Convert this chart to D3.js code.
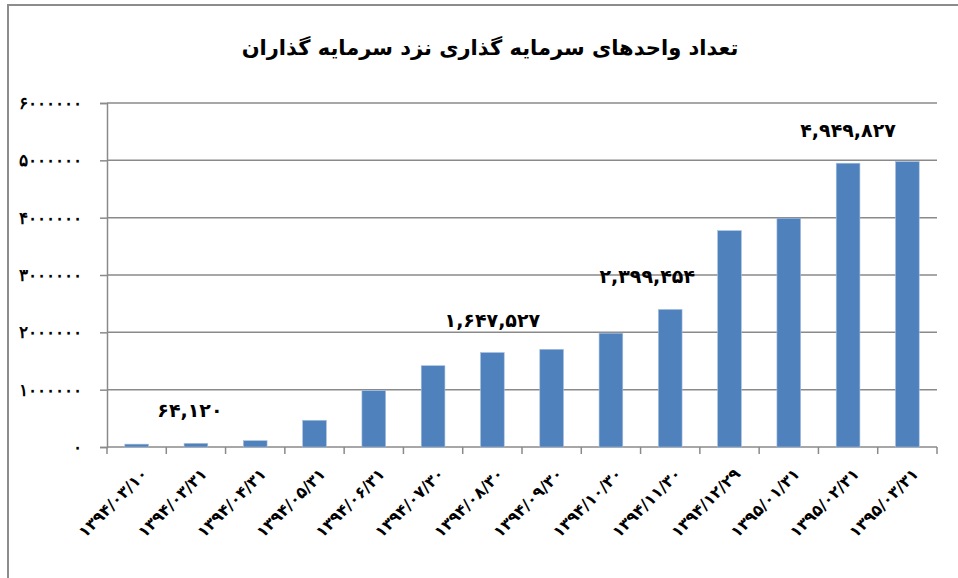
<!DOCTYPE html>
<html>
<head>
<meta charset="utf-8">
<script src="https://cdn.jsdelivr.net/npm/d3@7"></script>
<style>
  body { margin: 0; background: #fff; }
  svg { display: block; }
</style>
</head>
<body>
<div id="chart"></div>
<script>
// data
const chartTitle = "تعداد واحدهای سرمایه گذاری نزد سرمایه گذاران";
const dates = [
  "۱۳۹۴/۰۳/۱۰", "۱۳۹۴/۰۳/۳۱", "۱۳۹۴/۰۴/۳۱", "۱۳۹۴/۰۵/۳۱", "۱۳۹۴/۰۶/۳۱",
  "۱۳۹۴/۰۷/۳۰", "۱۳۹۴/۰۸/۳۰", "۱۳۹۴/۰۹/۳۰", "۱۳۹۴/۱۰/۳۰", "۱۳۹۴/۱۱/۳۰",
  "۱۳۹۴/۱۲/۲۹", "۱۳۹۵/۰۱/۳۱", "۱۳۹۵/۰۲/۳۱", "۱۳۹۵/۰۳/۳۱"
];
const units = [
  50000, 64120, 110000, 466000, 982000,
  1418000, 1647527, 1704000, 1985000, 2399454,
  3773000, 3990000, 4949827, 4978000
];
const yTicks = [0, 1000000, 2000000, 3000000, 4000000, 5000000, 6000000];
// bars that carry a value label
const labelled = [1, 6, 9, 12];

const persian = s => String(s).replace(/[0-9]/g, d => "۰۱۲۳۴۵۶۷۸۹"[d]);

const W = 958, H = 578;
const margin = { top: 103, right: 21, bottom: 131, left: 107 };
const width = W - margin.left - margin.right;
const height = H - margin.top - margin.bottom;

const svg = d3.select("#chart").append("svg")
  .attr("width", W).attr("height", H)
  .style("font-family", "'DejaVu Sans', sans-serif");

// outer frame
svg.append("rect")
  .attr("x", 8).attr("y", 5)
  .attr("width", W).attr("height", H)
  .attr("fill", "none").attr("stroke", "#8c8c8c").attr("stroke-width", 2);

svg.append("text")
  .attr("x", 490).attr("y", 55)
  .attr("text-anchor", "middle")
  .attr("direction", "rtl")
  .style("font-size", "21px").style("font-weight", "bold")
  .text(chartTitle);

const g = svg.append("g").attr("transform", `translate(${margin.left},${margin.top})`);

const x = d3.scaleBand().domain(dates).range([0, width]).paddingInner(0.6).paddingOuter(0.3);
const y = d3.scaleLinear().domain([0, 6000000]).range([height, 0]);

// gridlines
g.append("g")
  .selectAll("line").data(yTicks.slice(1)).join("line")
  .attr("x1", 0).attr("x2", width)
  .attr("y1", d => y(d)).attr("y2", d => y(d))
  .attr("stroke", "#8a8a8a").attr("stroke-width", 1.5);

// y axis
const yAxis = g.append("g")
  .call(d3.axisLeft(y).tickValues(yTicks).tickSize(7).tickPadding(18).tickFormat(d => persian(d)));
yAxis.select(".domain").attr("stroke", "#8a8a8a").attr("stroke-width", 1.5);
yAxis.selectAll(".tick line").attr("stroke", "#8a8a8a").attr("stroke-width", 1.5);
yAxis.selectAll("text").style("font-size", "17px").style("font-weight", "bold").attr("fill", "#000");

// x axis, ticks between categories
const xAxis = g.append("g").attr("transform", `translate(0,${height})`);
xAxis.append("line").attr("x1", 0).attr("x2", width)
  .attr("stroke", "#8a8a8a").attr("stroke-width", 1.5);
xAxis.selectAll(".tk").data(d3.range(dates.length + 1)).join("line")
  .attr("x1", i => i * width / dates.length).attr("x2", i => i * width / dates.length)
  .attr("y1", 0).attr("y2", 7)
  .attr("stroke", "#8a8a8a").attr("stroke-width", 1.5);
xAxis.selectAll("text").data(dates).join("text")
  .attr("transform", d => `translate(${x(d) + x.bandwidth() / 2 + 8},${24}) rotate(-45)`)
  .attr("text-anchor", "end")
  .attr("dy", "0.35em")
  .style("font-size", "16px").style("font-weight", "bold")
  .text(d => d);

// bars
g.append("g").selectAll("rect").data(units).join("rect")
  .attr("x", (d, i) => x(dates[i]))
  .attr("y", d => y(d))
  .attr("width", x.bandwidth())
  .attr("height", d => height - y(d))
  .attr("fill", "#4f81bd")
  .attr("stroke", "#a7c0de").attr("stroke-width", 0.6);

// value labels
const shift = { 1: -6, 9: -23 };
g.append("g").selectAll("text").data(labelled).join("text")
  .attr("x", i => x(dates[i]) + x.bandwidth() / 2 + (shift[i] || 0))
  .attr("y", i => y(units[i]) - 26)
  .attr("text-anchor", "middle")
  .style("font-size", "19px").style("font-weight", "bold")
  .text(i => persian(d3.format(",")(units[i])));
</script>
</body>
</html>
